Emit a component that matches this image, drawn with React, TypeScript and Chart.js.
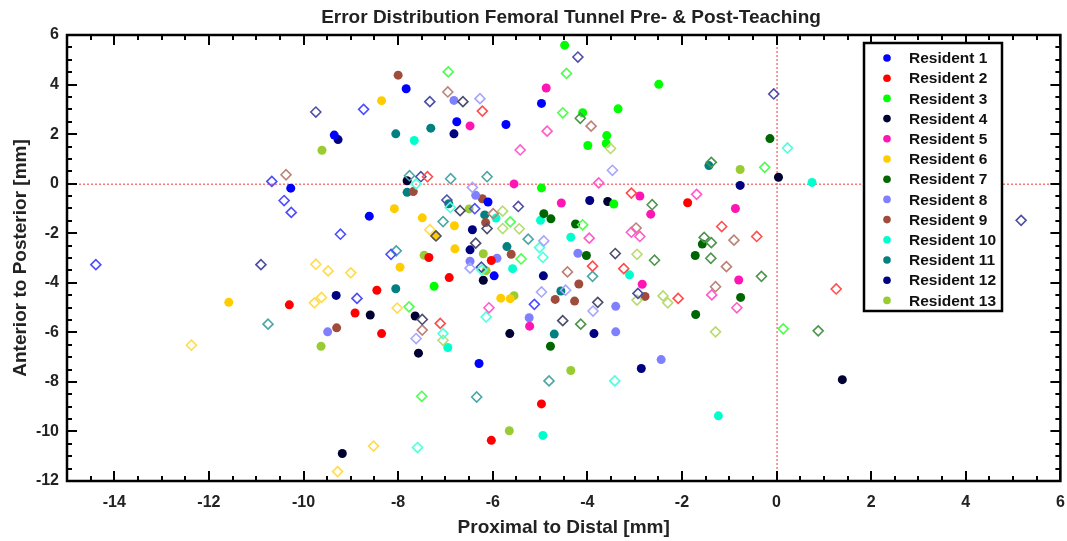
import React, { useEffect, useRef } from 'react';
import { Chart, registerables } from 'chart.js';
Chart.register(...registerables);

const chartTitle = 'Error Distribution Femoral Tunnel Pre‑ & Post‑Teaching';
const xAxisTitle = 'Proximal to Distal [mm]';
const yAxisTitle = 'Anterior to Posterior [mm]';

const residentNames = [
  'Resident 1', 'Resident 2', 'Resident 3', 'Resident 4', 'Resident 5', 'Resident 6', 'Resident 7',
  'Resident 8', 'Resident 9', 'Resident 10', 'Resident 11', 'Resident 12', 'Resident 13',
];
const residentColors = [
  '#0000ff', '#ff0000', '#00ff00', '#000033', '#ff14b4', '#ffcc00', '#006600',
  '#8080ff', '#a04c3c', '#00ffcc', '#008080', '#000080', '#99cc33',
];

// [x, y] pairs, pre-teaching (filled circles)
const r1Pre = [[-10.27, -0.18], [-7.83, 3.83], [-6.76, 2.5], [-5.72, 2.39], [-9.35, 1.96], [-4.97, 3.24], [-6.1, -0.74], [-8.61, -1.31], [-5.97, -3.72], [-6.29, -7.26]];
const r2Pre = [[-10.3, -4.89], [-7.35, -2.98], [-6.03, -3.1], [-6.92, -3.79], [-8.45, -4.3], [-8.91, -5.22], [-8.35, -6.05], [-6.03, -10.36], [-1.88, -0.77], [-4.97, -8.89]];
const r3Pre = [[-4.48, 5.59], [-2.49, 4.01], [-4.1, 2.86], [-3.35, 3.02], [-3.59, 1.94], [-3.99, 1.54], [-3.6, 1.62], [-4.97, -0.17], [-7.24, -4.14], [-3.44, -0.82]];
const r4Pre = [[-7.81, 0.12], [0.04, 0.26], [-6.2, -3.9], [-8.59, -5.3], [-7.64, -5.34], [-7.57, -6.84], [-5.64, -6.05], [-9.18, -10.89], [-3.57, -0.72], [1.39, -7.91]];
const r5Pre = [[-6.48, 2.33], [-5.55, -0.01], [-4.87, 3.86], [-5.22, -5.75], [-4.55, -0.78], [-2.89, -0.5], [-2.66, -1.23], [-0.87, -1.0], [-0.8, -3.89], [-2.84, -4.06]];
const r6Pre = [[-8.35, 3.35], [-11.58, -4.79], [-8.08, -1.01], [-7.49, -1.38], [-6.81, -1.7], [-7.2, -2.11], [-6.8, -2.63], [-7.96, -3.37], [-5.83, -4.62], [-5.63, -4.64]];
const r7Pre = [[-0.14, 1.82], [-4.92, -1.21], [-4.77, -1.42], [-4.25, -1.63], [-1.57, -2.44], [-1.72, -2.9], [-0.76, -4.59], [-1.71, -5.28], [-4.02, -2.9], [-4.78, -6.56]];
const r8Pre = [[-6.82, 3.36], [-6.36, -0.47], [-5.91, -3.01], [-6.48, -3.13], [-5.23, -5.41], [-9.49, -5.98], [-4.2, -2.81], [-3.4, -4.95], [-3.4, -5.98], [-2.44, -7.1]];
const r9Pre = [[-8.0, 4.38], [-7.68, -0.32], [-6.22, -0.61], [-6.15, -1.57], [-5.61, -2.85], [-9.3, -5.82], [-4.18, -4.05], [-4.68, -4.67], [-4.27, -4.74], [-2.78, -4.55]];
const r10Pre = [[-7.66, 1.74], [0.75, 0.05], [-5.93, -1.39], [-5.58, -3.43], [-6.95, -6.61], [-4.99, -1.48], [-4.35, -2.16], [-3.11, -3.68], [-1.23, -9.37], [-4.94, -10.16]];
const r11Pre = [[-8.05, 2.01], [-7.31, 2.24], [-1.43, 0.73], [-7.81, -0.35], [-6.93, -0.81], [-6.17, -1.26], [-5.7, -2.54], [-8.05, -4.24], [-4.56, -4.33], [-4.7, -6.07]];
const r12Pre = [[-6.82, 2.01], [-9.27, 1.78], [-0.77, -0.07], [-6.43, -1.86], [-6.48, -2.67], [-9.31, -4.51], [-3.95, -0.68], [-4.93, -3.72], [-3.86, -6.05], [-2.86, -7.46]];
const r13Pre = [[-9.61, 1.35], [-0.77, 0.57], [-6.5, -1.02], [-7.45, -2.89], [-6.2, -2.83], [-6.14, -3.51], [-5.55, -4.52], [-9.63, -6.56], [-5.65, -9.97], [-4.35, -7.54]];

// [x, y] pairs, post-teaching (open diamonds)
const r1Post = [[-10.67, 0.09], [-8.73, 3.0], [-10.41, -0.68], [-10.26, -1.16], [-14.39, -3.27], [-6.38, -1.01], [-9.22, -2.04], [-8.15, -2.85], [-8.87, -4.63], [-5.12, -4.87]];
const r2Post = [[-6.22, 2.93], [-7.38, 0.28], [-7.11, -5.64], [-3.07, -0.38], [-1.16, -1.73], [-0.42, -2.13], [-3.89, -3.33], [-3.23, -3.43], [-2.08, -4.63], [1.26, -4.25]];
const r3Post = [[-6.94, 4.51], [-4.44, 4.45], [-4.52, 2.86], [-0.25, 0.66], [-5.63, -1.54], [-5.4, -3.04], [-7.77, -4.97], [-4.1, -1.66], [0.14, -5.86], [-7.5, -8.58]];
const r4Post = [[-6.63, 3.31], [-6.69, -1.09], [-6.12, -1.81], [-7.2, -2.11], [-6.36, -2.4], [-7.49, -5.48], [-3.41, -2.82], [-3.78, -4.79], [-4.52, -5.53]];
const r5Post = [[-5.42, 1.36], [-4.85, 2.12], [-3.76, 0.03], [-6.08, -5.01], [-1.69, -0.43], [-3.96, -2.2], [-3.07, -1.96], [-2.89, -2.13], [-1.37, -4.49], [-0.84, -5.01]];
const r6Post = [[-12.37, -6.52], [-7.33, -1.86], [-9.74, -3.25], [-9.48, -3.52], [-9.0, -3.6], [-9.77, -4.81], [-9.62, -4.59], [-8.02, -5.02], [-8.52, -10.59], [-9.28, -11.62]];
const r7Post = [[-4.15, 2.64], [-1.38, 0.86], [-2.63, -0.85], [-1.53, -2.17], [-1.38, -2.38], [-1.39, -3.01], [-0.32, -3.74], [-2.58, -3.09], [-4.14, -5.67], [0.88, -5.94]];
const r8Post = [[-6.27, 3.43], [-6.43, -0.15], [-3.47, 0.54], [-6.48, -3.41], [-7.62, -6.25], [-4.92, -2.31], [-4.97, -4.37], [-4.46, -4.3], [-3.88, -5.14]];
const r9Post = [[-10.37, 0.36], [-6.95, 3.7], [-3.92, 2.32], [-5.99, -1.21], [-7.49, -5.91], [-2.97, -1.79], [-0.9, -2.28], [-1.06, -3.35], [-1.29, -4.16], [-4.42, -3.56]];
const r10Post = [[-7.62, -0.01], [0.23, 1.44], [-6.9, -0.96], [-6.23, -3.48], [-6.14, -5.38], [-7.05, -6.05], [-7.59, -10.65], [-5.01, -2.58], [-4.94, -2.97], [-3.42, -7.96]];
const r11Post = [[-7.76, 0.32], [-6.89, 0.2], [-6.12, 0.28], [-10.75, -5.67], [-7.05, -1.53], [-5.25, -2.24], [-8.04, -2.71], [-6.34, -8.61], [-3.89, -3.74], [-4.81, -7.96]];
const r12Post = [[-7.33, 3.31], [-9.74, 2.89], [-7.52, 0.28], [-4.2, 5.11], [-0.06, 3.62], [-10.9, -3.27], [-6.97, -0.66], [-5.46, -0.92], [-6.24, -3.37], [-2.93, -4.43], [5.17, -1.48]];
const r13Post = [[-3.51, 1.42], [-5.79, -1.11], [-5.79, -1.81], [-5.44, -1.82], [-7.05, -6.32], [-2.95, -2.85], [-2.95, -4.7], [-2.4, -4.53], [-2.3, -4.81], [-1.29, -5.98]];

const preData = [r1Pre, r2Pre, r3Pre, r4Pre, r5Pre, r6Pre, r7Pre, r8Pre, r9Pre, r10Pre, r11Pre, r12Pre, r13Pre];
const postData = [r1Post, r2Post, r3Post, r4Post, r5Post, r6Post, r7Post, r8Post, r9Post, r10Post, r11Post, r12Post, r13Post];

const xMin = -15, xMax = 6, yMin = -12, yMax = 6;
const majorStep = 2, minorStep = 0.5;

const FONT = '"Liberation Sans", Arial, Helvetica, sans-serif';

function lighten(hex: string, amt: number) {
  const n = parseInt(hex.slice(1), 16);
  const r = (n >> 16) & 255, g = (n >> 8) & 255, b = n & 255;
  const f = (c: number) => Math.round(c + (255 - c) * amt);
  return `rgb(${f(r)},${f(g)},${f(b)})`;
}

const decorPlugin = {
  id: 'decor',
  beforeDatasetsDraw(chart: any) {
    const { ctx, chartArea: a, scales } = chart;
    const x0 = scales.x.getPixelForValue(0);
    const y0 = scales.y.getPixelForValue(0);
    ctx.save();
    ctx.strokeStyle = '#ff3030';
    ctx.lineWidth = 1;
    ctx.setLineDash([2, 2]);
    ctx.beginPath();
    ctx.moveTo(a.left, y0 + 0.5); ctx.lineTo(a.right, y0 + 0.5);
    ctx.moveTo(x0 + 0.5, a.top); ctx.lineTo(x0 + 0.5, a.bottom);
    ctx.stroke();
    ctx.restore();
  },
  afterDraw(chart: any) {
    const { ctx, chartArea: a, scales } = chart;
    ctx.save();
    ctx.strokeStyle = '#000';
    ctx.lineWidth = 2;
    ctx.beginPath();
    for (let v = xMin; v <= xMax + 1e-9; v += minorStep) {
      const p = Math.round(scales.x.getPixelForValue(v));
      const len = Math.abs(v % majorStep) < 1e-9 ? 10 : 5;
      ctx.moveTo(p, a.bottom); ctx.lineTo(p, a.bottom - len);
      ctx.moveTo(p, a.top); ctx.lineTo(p, a.top + len);
    }
    for (let v = yMin; v <= yMax + 1e-9; v += minorStep) {
      const p = Math.round(scales.y.getPixelForValue(v));
      const len = Math.abs(v % majorStep) < 1e-9 ? 10 : 5;
      ctx.moveTo(a.left, p); ctx.lineTo(a.left + len, p);
      ctx.moveTo(a.right, p); ctx.lineTo(a.right - len, p);
    }
    ctx.stroke();
    ctx.lineWidth = 2.5;
    ctx.strokeRect(a.left, a.top, a.right - a.left, a.bottom - a.top);

    ctx.fillStyle = '#222';
    ctx.textAlign = 'center';
    ctx.textBaseline = 'middle';
    ctx.font = `bold 19px ${FONT}`;
    ctx.fillText(chartTitle, 571, 18);
    ctx.fillText(xAxisTitle, (a.left + a.right) / 2, 528);
    ctx.save();
    ctx.translate(21, (a.top + a.bottom) / 2);
    ctx.rotate(-Math.PI / 2);
    ctx.fillText(yAxisTitle, 0, 0);
    ctx.restore();

    const lx = 864, ly = 43, lw = 138, lh = 268;
    ctx.fillStyle = '#fff';
    ctx.fillRect(lx, ly, lw, lh);
    ctx.strokeStyle = '#000';
    ctx.lineWidth = 2.5;
    ctx.strokeRect(lx, ly, lw, lh);
    ctx.textAlign = 'left';
    ctx.font = `bold 15.5px ${FONT}`;
    residentNames.forEach((name, i) => {
      const yy = 58 + i * 20.2;
      ctx.fillStyle = residentColors[i];
      ctx.beginPath();
      ctx.arc(887, yy, 3.8, 0, Math.PI * 2);
      ctx.fill();
      ctx.fillStyle = '#111';
      ctx.fillText(name, 909, yy + 1);
    });
    ctx.restore();
  },
};

export default function App() {
  const ref = useRef<HTMLCanvasElement | null>(null);
  useEffect(() => {
    if (!ref.current) return;
    const datasets: any[] = [];
    postData.forEach((pts, i) => {
      datasets.push({
        label: residentNames[i] + ' post',
        data: pts.map(([x, y]) => ({ x, y })),
        pointStyle: 'rectRot',
        pointRadius: 5,
        pointBorderWidth: 1.6,
        borderColor: lighten(residentColors[i], 0.3),
        pointBorderColor: lighten(residentColors[i], 0.3),
        backgroundColor: 'rgba(255,255,255,0)',
        pointBackgroundColor: 'rgba(255,255,255,0)',
        showLine: false,
      });
    });
    preData.forEach((pts, i) => {
      datasets.push({
        label: residentNames[i],
        data: pts.map(([x, y]) => ({ x, y })),
        pointStyle: 'circle',
        pointRadius: 4.5,
        pointBorderWidth: 0,
        borderColor: residentColors[i],
        backgroundColor: residentColors[i],
        pointBackgroundColor: residentColors[i],
        showLine: false,
      });
    });
    const chart = new Chart(ref.current, {
      type: 'scatter',
      data: { datasets },
      options: {
        animation: false,
        responsive: false,
        devicePixelRatio: 1,
        layout: { padding: { left: 0, top: 35, right: 4, bottom: 0 } },
        plugins: { legend: { display: false }, title: { display: false }, tooltip: { enabled: false } },
        scales: {
          x: {
            type: 'linear', min: xMin, max: xMax,
            afterFit: (s: any) => { s.height = 60; s.paddingLeft = 0; s.paddingRight = 0; },
            grid: { display: false, drawTicks: false },
            border: { display: false },
            ticks: {
              stepSize: majorStep, includeBounds: false, autoSkip: false, maxRotation: 0,
              padding: 12, color: '#222', font: { family: FONT, size: 16, weight: 'bold' },
            },
          },
          y: {
            type: 'linear', min: yMin, max: yMax,
            afterFit: (s: any) => { s.width = 67; s.paddingTop = 0; s.paddingBottom = 0; },
            grid: { display: false, drawTicks: false },
            border: { display: false },
            ticks: {
              stepSize: majorStep, includeBounds: false, autoSkip: false,
              padding: 8, color: '#222', font: { family: FONT, size: 16, weight: 'bold' },
            },
          },
        },
      },
      plugins: [decorPlugin],
    } as any);
    return () => chart.destroy();
  }, []);
  return (
    <div style={{ position: 'fixed', left: 0, top: 0, width: 1067, height: 541, background: '#fff' }}>
      <canvas ref={ref} width={1067} height={541} style={{ width: 1067, height: 541 }} />
    </div>
  );
}
